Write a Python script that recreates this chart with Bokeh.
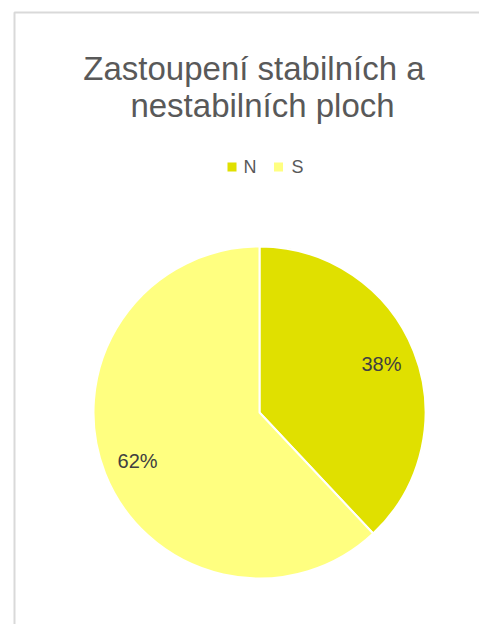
import math
from bokeh.plotting import figure
from bokeh.models import Range1d, ColumnDataSource
from bokeh.core.properties import value
from bokeh.embed import file_html
from bokeh.resources import INLINE

# ---- data ----
categories = ["N", "S"]
values = [38, 62]
pct_labels = ["38%", "62%"]
colors = ["#E0E000", "#FFFF80"]
title_lines = ["Zastoupení stabilních  a", "nestabilních ploch"]

FONT = "Liberation Sans"
W, H = 479, 624
p = figure(width=W, height=H, x_range=Range1d(0, W), y_range=Range1d(-H, 0),
           output_backend="svg", toolbar_location=None, min_border=0,
           x_axis_type=None, y_axis_type=None)
p.grid.visible = False
p.outline_line_color = None
p.background_fill_color = "white"
p.border_fill_color = "white"

# chart area border (left/top visible)
p.line(x=[14, 14, 800], y=[-900, -12, -12], line_color="#d9d9d9", line_width=2)

# title
p.text(x=[258, 262], y=[-68, -105], text=title_lines, text_align="center",
       text_baseline="alphabetic", text_font=value(FONT), text_font_size="33px",
       text_color="#595959")

# pie
cx, cy, R = 259, -412, 166
total = sum(values)
starts, ends, lx, ly = [], [], [], []
a = math.pi / 2
for v in values:
    b = a - 2 * math.pi * v / total
    starts.append(b)
    ends.append(a)
    mid = (a + b) / 2
    lx.append(cx + 0.79 * R * math.cos(mid))
    ly.append(cy + 0.79 * R * math.sin(mid))
    a = b

src = ColumnDataSource(dict(cat=categories, start=starts, end=ends, color=colors,
                            lx=lx, ly=ly, lab=pct_labels))
p.wedge(x=cx, y=cy, radius=R, start_angle="start", end_angle="end",
        fill_color="color", line_color="white", line_width=2, source=src)
p.text(x="lx", y="ly", text="lab", source=src, text_align="center",
       text_baseline="middle", text_font=value(FONT), text_font_size="20px",
       text_color="#404040")

# legend
leg_y = -166.5
mx = [231.5, 278]
tx = [243, 291]
p.scatter(x=mx, y=[leg_y] * 2, marker="square", size=9, fill_color=colors, line_color=None)
p.text(x=tx, y=[leg_y] * 2, text=categories, text_align="left", text_baseline="middle",
       text_font=value(FONT), text_font_size="18px", text_color="#595959")

open("out.html", "w").write(file_html(p, INLINE))
